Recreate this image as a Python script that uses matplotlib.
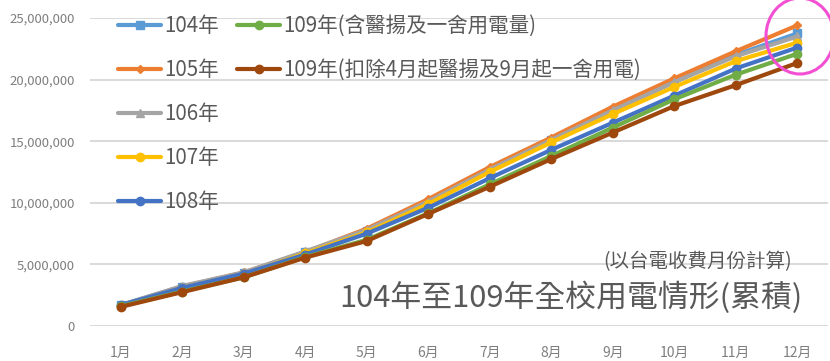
import matplotlib
matplotlib.use("Agg")
import matplotlib.pyplot as plt
from matplotlib.patches import Ellipse

plt.rcParams['font.family'] = ['Noto Sans CJK TC', 'DejaVu Sans']

months = ["1月", "2月", "3月", "4月", "5月", "6月", "7月", "8月", "9月", "10月", "11月", "12月"]
yticks = [0, 5000000, 10000000, 15000000, 20000000, 25000000]

y104 = [1.70, 3.20, 4.30, 6.00, 7.70, 10.00, 12.60, 15.10, 17.50, 19.80, 22.00, 23.75]
y105 = [1.65, 3.20, 4.35, 6.00, 7.90, 10.30, 12.90, 15.30, 17.80, 20.10, 22.30, 24.40]
y106 = [1.70, 3.25, 4.35, 6.05, 7.80, 10.10, 12.70, 15.10, 17.50, 19.80, 21.90, 23.50]
y107 = [1.65, 3.10, 4.20, 5.90, 7.60, 9.90, 12.50, 14.90, 17.20, 19.40, 21.50, 23.00]
y108 = [1.70, 3.10, 4.25, 5.80, 7.50, 9.60, 12.00, 14.30, 16.50, 18.70, 20.90, 22.60]
y109 = [1.60, 2.80, 3.95, 5.60, 7.00, 9.15, 11.50, 13.80, 16.10, 18.40, 20.40, 22.10]
y109b = [1.55, 2.75, 3.95, 5.55, 6.90, 9.10, 11.30, 13.55, 15.70, 17.85, 19.55, 21.35]

labels = ["104年", "105年", "106年", "107年", "108年",
          "109年(含醫揚及一舍用電量)", "109年(扣除4月起醫揚及9月起一舍用電)"]
series = [y104, y105, y106, y107, y108, y109, y109b]
colors = ["#5B9BD5", "#ED7D31", "#A5A5A5", "#FFC000", "#4472C4", "#70AD47", "#9E480E"]
markers = ["s", "D", "^", "o", "o", "o", "o"]
msizes = [5.5, 4.5, 6, 6, 6, 6, 6]

W, H = 830, 361
fig = plt.figure(figsize=(W / 100, H / 100), dpi=100)
ax = fig.add_axes([90 / W, 1 - 326 / H, (828 - 90) / W, (326 - 18) / H])

x = list(range(1, 13))
handles = []
for ys, c, m, ms, lab in zip(series, colors, markers, msizes, labels):
    h, = ax.plot(x, [v * 1e6 for v in ys], color=c, marker=m, markersize=ms,
                 linewidth=3.0, label=lab, solid_capstyle='round')
    handles.append(h)

ax.set_xlim(0.5, 12.5)
ax.set_ylim(0, 25000000)
ax.set_yticks(yticks)
ax.set_yticklabels([f"{v:,}" for v in yticks])
ax.set_xticks(x)
ax.set_xticklabels(months)
ax.grid(axis='y', color='#D9D9D9', linewidth=1.4)
ax.set_axisbelow(True)
for s in ax.spines.values():
    s.set_visible(False)
ax.tick_params(axis='both', length=0, colors='#7F7F7F', labelsize=9.5)
ax.tick_params(axis='x', labelsize=10)
ax.tick_params(axis='y', pad=11)
ax.tick_params(axis='x', pad=14)

leg_kw = dict(frameon=False, fontsize=14.8, handlelength=2.1, handletextpad=0.15,
              labelspacing=1.07, borderpad=0, borderaxespad=0, loc='upper left',
              bbox_transform=fig.transFigure, labelcolor='#595959')
leg1 = ax.legend(handles[:5], labels[:5], bbox_to_anchor=(118 / W, 1 - 15 / H), **leg_kw)
ax.add_artist(leg1)
leg2 = ax.legend(handles[5:], labels[5:], bbox_to_anchor=(237 / W, 1 - 15 / H), **leg_kw)

fig.text(792 / W, 1 - 262 / H, "(以台電收費月份計算)", ha='right', va='center',
         fontsize=14, color='#595959')
fig.text(802 / W, 1 - 298 / H, "104年至109年全校用電情形(累積)", ha='right', va='center',
         fontsize=22.2, color='#595959')

ell = Ellipse((800 / W, 1 - 36 / H), 68 / W, 76 / H, transform=fig.transFigure,
              fill=False, edgecolor='#F24FD2', linewidth=2.2)
fig.patches.append(ell)

fig.savefig("out.png", dpi=100)
